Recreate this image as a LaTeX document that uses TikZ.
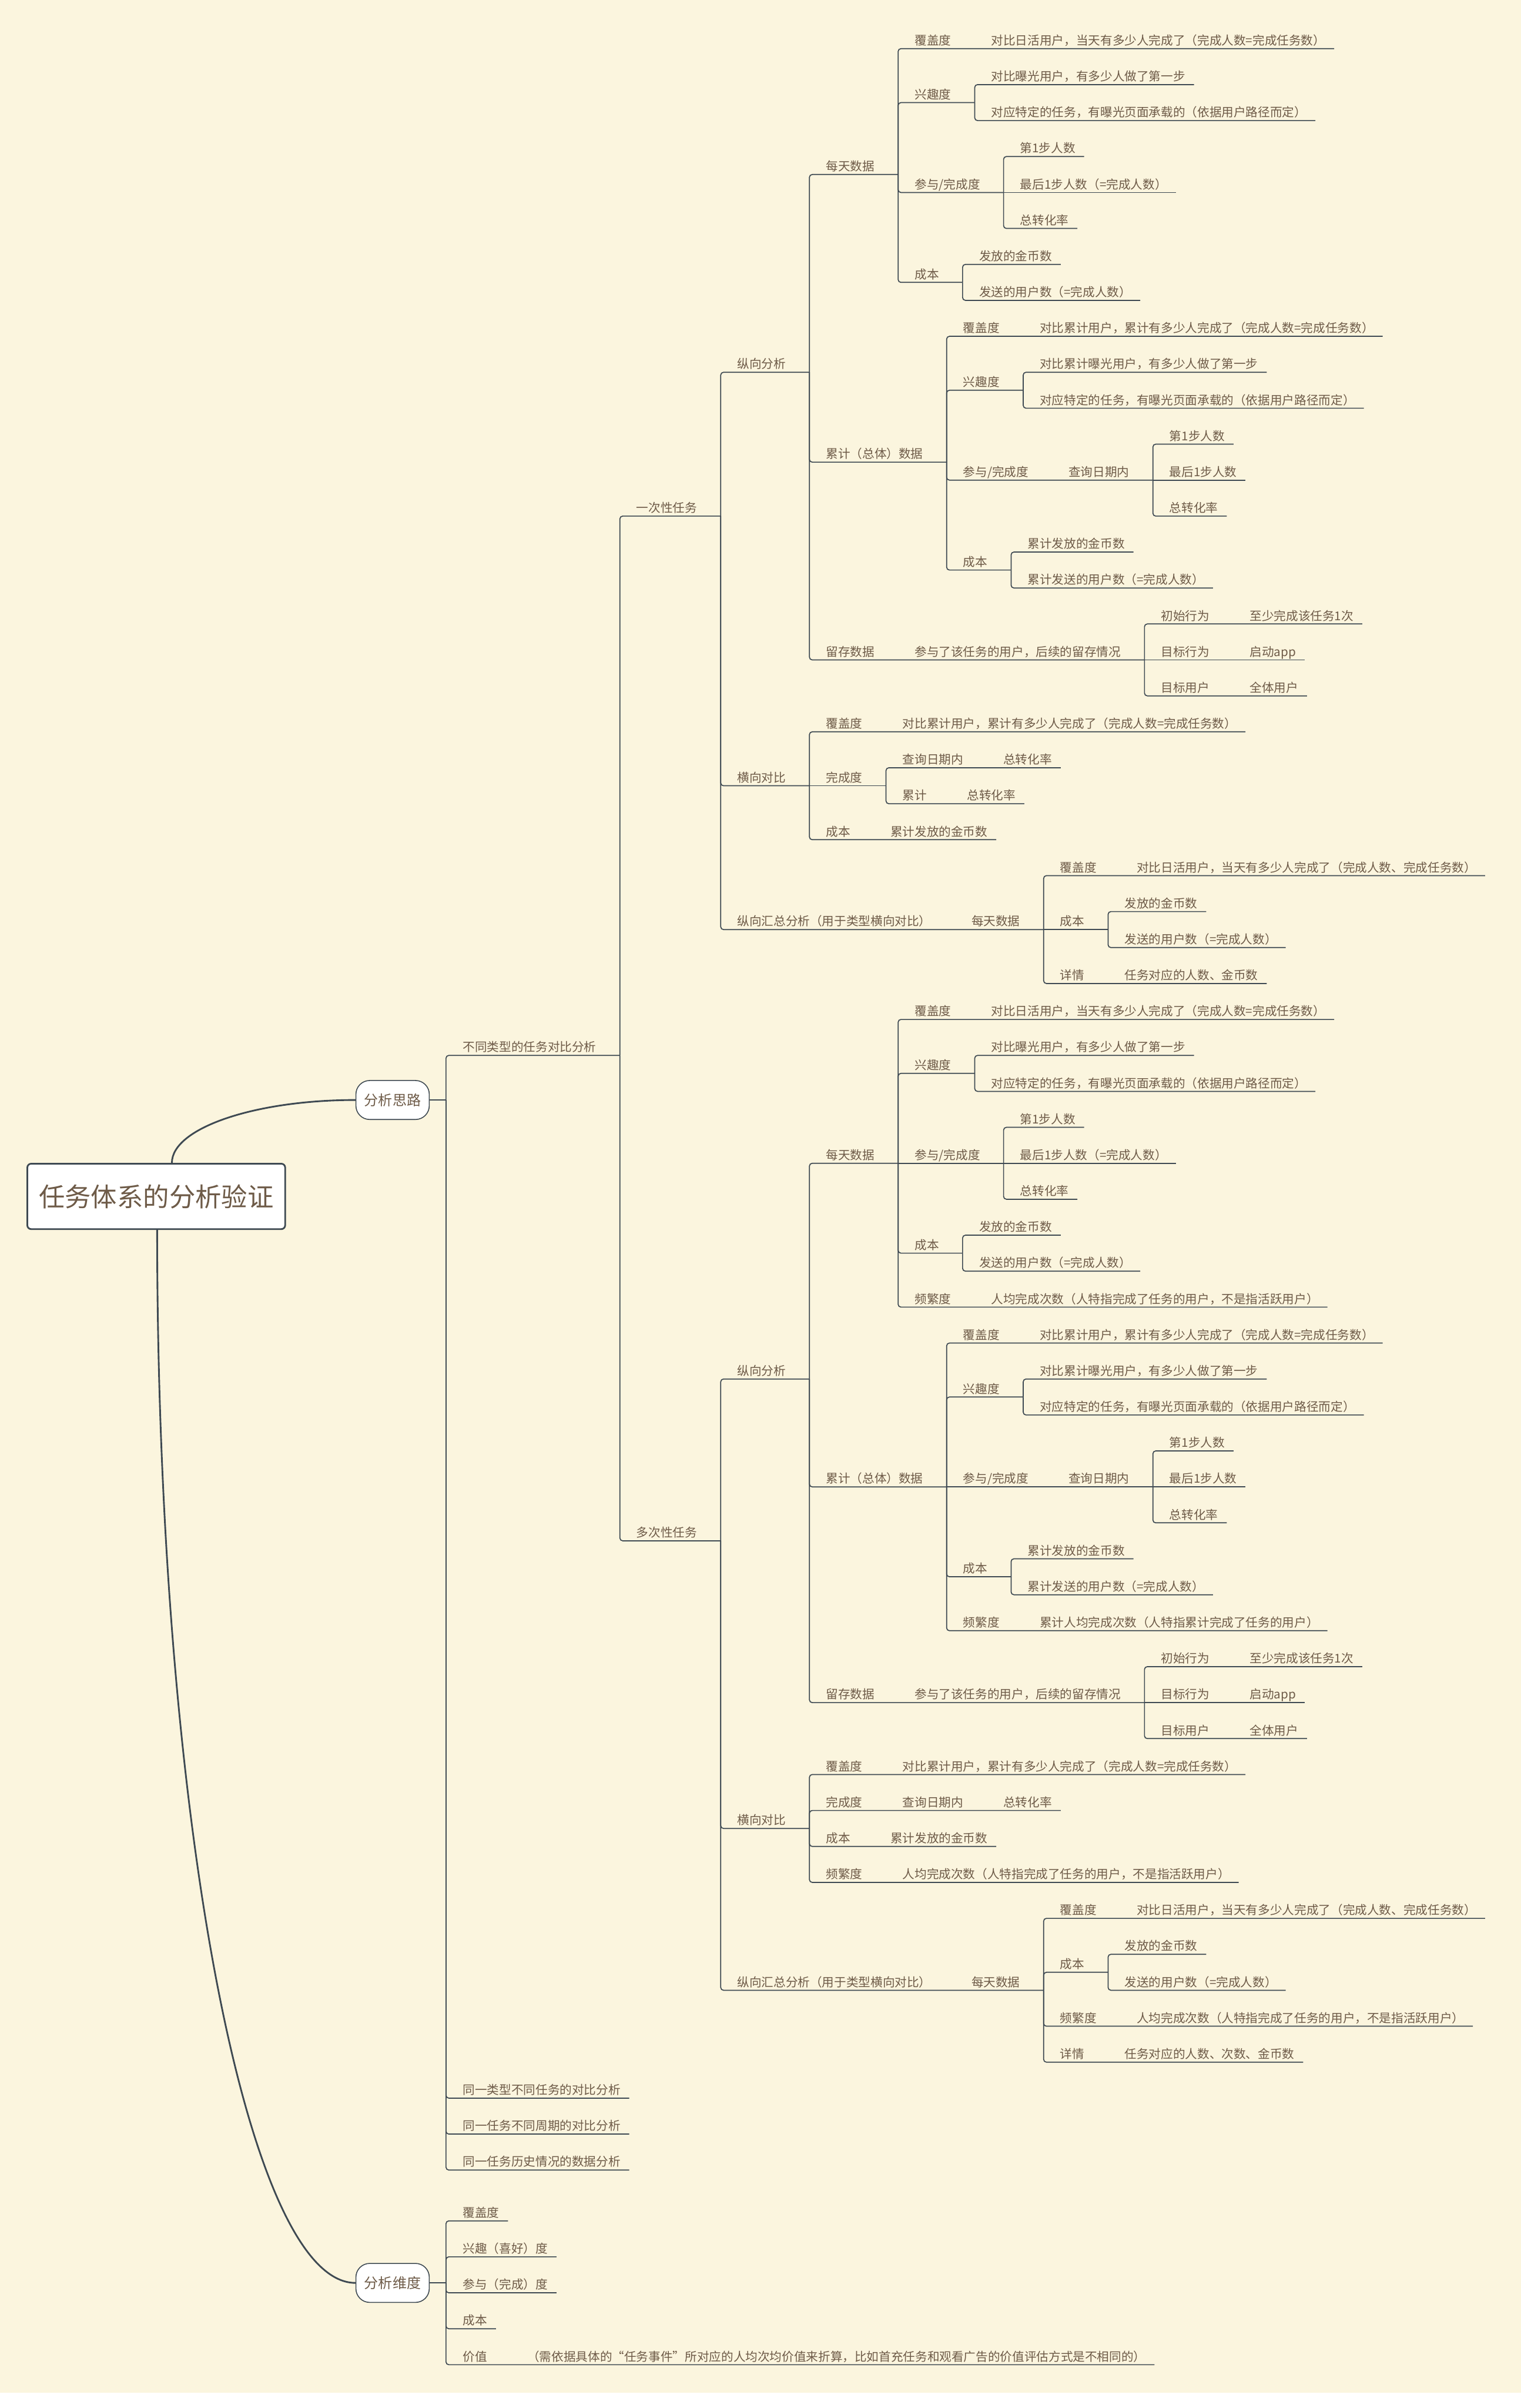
\documentclass[tikz,border=0pt]{standalone}
\usepackage{fontspec}
\newfontfamily\cjk{Noto Sans CJK SC}
\usetikzlibrary{calc}
\definecolor{bgc}{RGB}{251,245,222}
\definecolor{txc}{RGB}{110,91,72}
\definecolor{lnc}{RGB}{62,73,82}
\newcommand\RY[1]{31.7+23.42*(#1)}
\newcommand\RZ[1]{1446.6+23.42*(#1)}
\tikzset{
  t/.style={anchor=south west, inner sep=0pt, text depth=2.2pt, text height=6.6pt, font=\cjk\fontsize{7.9}{7.9}\selectfont, text=txc},
  ln/.style={draw=lnc, line width=0.65pt, rounded corners=1.8pt},
  pill/.style={draw=lnc, fill=white, line width=0.6pt, rounded corners=9pt, minimum width=47.8pt, minimum height=25.4pt, inner sep=0pt, font=\cjk\fontsize{9.2}{9.2}\selectfont, text=txc},
  rootbox/.style={draw=lnc, fill=white, line width=1.1pt, rounded corners=2.5pt, minimum width=168pt, minimum height=42.6pt, inner sep=0pt, font=\cjk\fontsize{17}{17}\selectfont, text=txc},
  curve/.style={draw=lnc, line width=1.1pt},
}
\begin{document}
\begin{tikzpicture}[x=1pt,y=-1pt]
\fill[white] (0,0) rectangle (991,1568.5);
\fill[bgc] (0,0) rectangle (991,1558.6);
\useasboundingbox (0,0) rectangle (991,1568.5);

% root and main branches
\node[rootbox] (root) at (101.8,779.3) {任务体系的分析验证};
\node[pill] (p1) at (255.8,716.5) {分析思路};
\node[pill] (p2) at (255.8,1487) {分析维度};
\draw[curve] ([xshift=10.2pt]root.north) .. controls (112,734.9) and (165.7,716.5) .. (p1.west);
\draw[curve] ([xshift=0.6pt]root.south) .. controls (102.4,1179.6) and (160.3,1487) .. (p2.west);
\coordinate (p1t) at (290.6,716.5);
\coordinate (p2t) at (290.6,1487);
\draw[ln] (p1.east) -- (p1t);
\draw[ln] (p2.east) -- (p2t);

% level 1 under 分析思路
\node[t] (a1) at (301.4,{\RY{28}}) {不同类型的任务对比分析};
\coordinate (a1t) at (403.9,{\RY{28}});
\node[t] (a2) at (301.4,{\RY{57}}) {同一类型不同任务的对比分析};
\node[t] (a3) at (301.4,{\RY{58}}) {同一任务不同周期的对比分析};
\node[t] (a4) at (301.4,{\RY{59}}) {同一任务历史情况的数据分析};
\draw[ln] (p1t) |- (a1t);
\draw[ln] (p1t) |- ($(a2.south east)+(5.5,0)$);
\draw[ln] (p1t) |- ($(a3.south east)+(5.5,0)$);
\draw[ln] (p1t) |- ($(a4.south east)+(5.5,0)$);

% level 2
\node[t] (b1) at (414.5,{\RY{13}}) {一次性任务};
\coordinate (b1t) at (469.6,{\RY{13}});
\node[t] (b2) at (414.5,{\RY{41.5}}) {多次性任务};
\coordinate (b2t) at (469.6,{\RY{41.5}});
\draw[ln] (a1t) |- (b1t);
\draw[ln] (a1t) |- (b2t);

% ===== 一次性任务 =====
\node[t] (c1) at (480.2,{\RY{9}}) {纵向分析};
\coordinate (c1t) at (527.4,{\RY{9}});
\node[t] (c2) at (480.2,{\RY{20.5}}) {横向对比};
\coordinate (c2t) at (527.4,{\RY{20.5}});
\node[t] (c3) at (480.2,{\RY{24.5}}) {纵向汇总分析（用于类型横向对比）};
\node[t] (c3d) at (632.8,{\RY{24.5}}) {每天数据};
\coordinate (c3dt) at (680.0,{\RY{24.5}});
\draw[ln] (b1t) |- (c1t);
\draw[ln] (b1t) |- (c2t);
\draw[ln] (b1t) |- (c3dt);

\node[t] (d1) at (538.0,{\RY{3.5}}) {每天数据};
\coordinate (d1t) at (585.2,{\RY{3.5}});
\node[t] (d2) at (538.0,{\RY{11.5}}) {累计（总体）数据};
\coordinate (d2t) at (616.8,{\RY{11.5}});
\node[t] (d3) at (538.0,{\RY{17}}) {留存数据};
\node[t] (d3e) at (595.8,{\RY{17}}) {参与了该任务的用户，后续的留存情况};
\coordinate (d3et) at (745.7,{\RY{17}});
\draw[ln] (c1t) |- (d1t);
\draw[ln] (c1t) |- (d2t);
\draw[ln] (c1t) |- (d3et);

% 每天数据
\node[t] (e1) at (595.8,{\RY{0}}) {覆盖度};
\node[t] (e1a) at (645.7,{\RY{0}}) {对比日活用户，当天有多少人完成了（完成人数=完成任务数）};
\node[t] (e2) at (595.8,{\RY{1.5}}) {兴趣度};
\coordinate (e2t) at (635.1,{\RY{1.5}});
\node[t] (e2a) at (645.7,{\RY{1}}) {对比曝光用户，有多少人做了第一步};
\node[t] (e2b) at (645.7,{\RY{2}}) {对应特定的任务，有曝光页面承载的（依据用户路径而定）};
\node[t] (e3) at (595.8,{\RY{4}}) {参与/完成度};
\coordinate (e3t) at (653.9,{\RY{4}});
\node[t] (e3a) at (664.5,{\RY{3}}) {第1步人数};
\node[t] (e3b) at (664.5,{\RY{4}}) {最后1步人数（=完成人数）};
\node[t] (e3c) at (664.5,{\RY{5}}) {总转化率};
\node[t] (e4) at (595.8,{\RY{6.5}}) {成本};
\coordinate (e4t) at (627.2,{\RY{6.5}});
\node[t] (e4a) at (637.8,{\RY{6}}) {发放的金币数};
\node[t] (e4b) at (637.8,{\RY{7}}) {发送的用户数（=完成人数）};
\draw[ln] (d1t) |- ($(e1a.south east)+(5.5,0)$);
\draw[ln] (d1t) |- (e2t);
\draw[ln] (e2t) |- ($(e2a.south east)+(5.5,0)$);
\draw[ln] (e2t) |- ($(e2b.south east)+(5.5,0)$);
\draw[ln] (d1t) |- (e3t);
\draw[ln] (e3t) |- ($(e3a.south east)+(5.5,0)$);
\draw[ln] (e3t) -- ($(e3b.south east)+(5.5,0)$);
\draw[ln] (e3t) |- ($(e3c.south east)+(5.5,0)$);
\draw[ln] (d1t) |- (e4t);
\draw[ln] (e4t) |- ($(e4a.south east)+(5.5,0)$);
\draw[ln] (e4t) |- ($(e4b.south east)+(5.5,0)$);

% 累计（总体）数据
\node[t] (f1) at (627.4,{\RY{8}}) {覆盖度};
\node[t] (f1a) at (677.3,{\RY{8}}) {对比累计用户，累计有多少人完成了（完成人数=完成任务数）};
\node[t] (f2) at (627.4,{\RY{9.5}}) {兴趣度};
\coordinate (f2t) at (666.7,{\RY{9.5}});
\node[t] (f2a) at (677.3,{\RY{9}}) {对比累计曝光用户，有多少人做了第一步};
\node[t] (f2b) at (677.3,{\RY{10}}) {对应特定的任务，有曝光页面承载的（依据用户路径而定）};
\node[t] (f3) at (627.4,{\RY{12}}) {参与/完成度};
\node[t] (f3q) at (696.1,{\RY{12}}) {查询日期内};
\coordinate (f3qt) at (751.2,{\RY{12}});
\node[t] (f3a) at (761.8,{\RY{11}}) {第1步人数};
\node[t] (f3b) at (761.8,{\RY{12}}) {最后1步人数};
\node[t] (f3c) at (761.8,{\RY{13}}) {总转化率};
\node[t] (f4) at (627.4,{\RY{14.5}}) {成本};
\coordinate (f4t) at (658.8,{\RY{14.5}});
\node[t] (f4a) at (669.4,{\RY{14}}) {累计发放的金币数};
\node[t] (f4b) at (669.4,{\RY{15}}) {累计发送的用户数（=完成人数）};
\draw[ln] (d2t) |- ($(f1a.south east)+(5.5,0)$);
\draw[ln] (d2t) |- (f2t);
\draw[ln] (f2t) |- ($(f2a.south east)+(5.5,0)$);
\draw[ln] (f2t) |- ($(f2b.south east)+(5.5,0)$);
\draw[ln] (d2t) |- (f3qt);
\draw[ln] (f3qt) |- ($(f3a.south east)+(5.5,0)$);
\draw[ln] (f3qt) -- ($(f3b.south east)+(5.5,0)$);
\draw[ln] (f3qt) |- ($(f3c.south east)+(5.5,0)$);
\draw[ln] (d2t) |- (f4t);
\draw[ln] (f4t) |- ($(f4a.south east)+(5.5,0)$);
\draw[ln] (f4t) |- ($(f4b.south east)+(5.5,0)$);

% 留存
\node[t] (g1) at (756.3,{\RY{16}}) {初始行为};
\node[t] (g1a) at (814.1,{\RY{16}}) {至少完成该任务1次};
\node[t] (g2) at (756.3,{\RY{17}}) {目标行为};
\node[t] (g2a) at (814.1,{\RY{17}}) {启动app};
\node[t] (g3) at (756.3,{\RY{18}}) {目标用户};
\node[t] (g3a) at (814.1,{\RY{18}}) {全体用户};
\draw[ln] (d3et) |- ($(g1a.south east)+(5.5,0)$);
\draw[ln] (d3et) -- ($(g2a.south east)+(5.5,0)$);
\draw[ln] (d3et) |- ($(g3a.south east)+(5.5,0)$);

% 横向对比
\node[t] (h1) at (538.0,{\RY{19}}) {覆盖度};
\node[t] (h1a) at (587.9,{\RY{19}}) {对比累计用户，累计有多少人完成了（完成人数=完成任务数）};
\node[t] (h2) at (538.0,{\RY{20.5}}) {完成度};
\coordinate (h2t) at (577.3,{\RY{20.5}});
\node[t] (h2a) at (587.9,{\RY{20}}) {查询日期内};
\node[t] (h2a1) at (653.6,{\RY{20}}) {总转化率};
\node[t] (h2b) at (587.9,{\RY{21}}) {累计};
\node[t] (h2b1) at (629.9,{\RY{21}}) {总转化率};
\node[t] (h3) at (538.0,{\RY{22}}) {成本};
\node[t] (h3a) at (580.0,{\RY{22}}) {累计发放的金币数};
\draw[ln] (c2t) |- ($(h1a.south east)+(5.5,0)$);
\draw[ln] (c2t) -- (h2t);
\draw[ln] (h2t) |- ($(h2a1.south east)+(5.5,0)$);
\draw[ln] (h2t) |- ($(h2b1.south east)+(5.5,0)$);
\draw[ln] (c2t) |- ($(h3a.south east)+(5.5,0)$);

% 纵向汇总 每天数据
\node[t] (i1) at (690.6,{\RY{23}}) {覆盖度};
\node[t] (i1a) at (740.5,{\RY{23}}) {对比日活用户，当天有多少人完成了（完成人数、完成任务数）};
\node[t] (i2) at (690.6,{\RY{24.5}}) {成本};
\coordinate (i2t) at (722.0,{\RY{24.5}});
\node[t] (i2a) at (732.6,{\RY{24}}) {发放的金币数};
\node[t] (i2b) at (732.6,{\RY{25}}) {发送的用户数（=完成人数）};
\node[t] (i3) at (690.6,{\RY{26}}) {详情};
\node[t] (i3a) at (732.6,{\RY{26}}) {任务对应的人数、金币数};
\draw[ln] (c3dt) |- ($(i1a.south east)+(5.5,0)$);
\draw[ln] (c3dt) -- (i2t);
\draw[ln] (i2t) |- ($(i2a.south east)+(5.5,0)$);
\draw[ln] (i2t) |- ($(i2b.south east)+(5.5,0)$);
\draw[ln] (c3dt) |- ($(i3a.south east)+(5.5,0)$);

% ===== 多次性任务 =====
\node[t] (c4) at (480.2,{\RY{37}}) {纵向分析};
\coordinate (c4t) at (527.4,{\RY{37}});
\node[t] (c5) at (480.2,{\RY{49.5}}) {横向对比};
\coordinate (c5t) at (527.4,{\RY{49.5}});
\node[t] (c6) at (480.2,{\RY{54}}) {纵向汇总分析（用于类型横向对比）};
\node[t] (c6d) at (632.8,{\RY{54}}) {每天数据};
\coordinate (c6dt) at (680.0,{\RY{54}});
\draw[ln] (b2t) |- (c4t);
\draw[ln] (b2t) |- (c5t);
\draw[ln] (b2t) |- (c6dt);

\node[t] (d4) at (538.0,{\RY{31}}) {每天数据};
\coordinate (d4t) at (585.2,{\RY{31}});
\node[t] (d5) at (538.0,{\RY{40}}) {累计（总体）数据};
\coordinate (d5t) at (616.8,{\RY{40}});
\node[t] (d6) at (538.0,{\RY{46}}) {留存数据};
\node[t] (d6e) at (595.8,{\RY{46}}) {参与了该任务的用户，后续的留存情况};
\coordinate (d6et) at (745.7,{\RY{46}});
\draw[ln] (c4t) |- (d4t);
\draw[ln] (c4t) |- (d5t);
\draw[ln] (c4t) |- (d6et);

% 每天数据
\node[t] (j1) at (595.8,{\RY{27}}) {覆盖度};
\node[t] (j1a) at (645.7,{\RY{27}}) {对比日活用户，当天有多少人完成了（完成人数=完成任务数）};
\node[t] (j2) at (595.8,{\RY{28.5}}) {兴趣度};
\coordinate (j2t) at (635.1,{\RY{28.5}});
\node[t] (j2a) at (645.7,{\RY{28}}) {对比曝光用户，有多少人做了第一步};
\node[t] (j2b) at (645.7,{\RY{29}}) {对应特定的任务，有曝光页面承载的（依据用户路径而定）};
\node[t] (j3) at (595.8,{\RY{31}}) {参与/完成度};
\coordinate (j3t) at (653.9,{\RY{31}});
\node[t] (j3a) at (664.5,{\RY{30}}) {第1步人数};
\node[t] (j3b) at (664.5,{\RY{31}}) {最后1步人数（=完成人数）};
\node[t] (j3c) at (664.5,{\RY{32}}) {总转化率};
\node[t] (j4) at (595.8,{\RY{33.5}}) {成本};
\coordinate (j4t) at (627.2,{\RY{33.5}});
\node[t] (j4a) at (637.8,{\RY{33}}) {发放的金币数};
\node[t] (j4b) at (637.8,{\RY{34}}) {发送的用户数（=完成人数）};
\node[t] (j5) at (595.8,{\RY{35}}) {频繁度};
\node[t] (j5a) at (645.7,{\RY{35}}) {人均完成次数（人特指完成了任务的用户，不是指活跃用户）};
\draw[ln] (d4t) |- ($(j1a.south east)+(5.5,0)$);
\draw[ln] (d4t) |- (j2t);
\draw[ln] (j2t) |- ($(j2a.south east)+(5.5,0)$);
\draw[ln] (j2t) |- ($(j2b.south east)+(5.5,0)$);
\draw[ln] (d4t) -- (j3t);
\draw[ln] (j3t) |- ($(j3a.south east)+(5.5,0)$);
\draw[ln] (j3t) -- ($(j3b.south east)+(5.5,0)$);
\draw[ln] (j3t) |- ($(j3c.south east)+(5.5,0)$);
\draw[ln] (d4t) |- (j4t);
\draw[ln] (j4t) |- ($(j4a.south east)+(5.5,0)$);
\draw[ln] (j4t) |- ($(j4b.south east)+(5.5,0)$);
\draw[ln] (d4t) |- ($(j5a.south east)+(5.5,0)$);

% 累计（总体）数据
\node[t] (k1) at (627.4,{\RY{36}}) {覆盖度};
\node[t] (k1a) at (677.3,{\RY{36}}) {对比累计用户，累计有多少人完成了（完成人数=完成任务数）};
\node[t] (k2) at (627.4,{\RY{37.5}}) {兴趣度};
\coordinate (k2t) at (666.7,{\RY{37.5}});
\node[t] (k2a) at (677.3,{\RY{37}}) {对比累计曝光用户，有多少人做了第一步};
\node[t] (k2b) at (677.3,{\RY{38}}) {对应特定的任务，有曝光页面承载的（依据用户路径而定）};
\node[t] (k3) at (627.4,{\RY{40}}) {参与/完成度};
\node[t] (k3q) at (696.1,{\RY{40}}) {查询日期内};
\coordinate (k3qt) at (751.2,{\RY{40}});
\node[t] (k3a) at (761.8,{\RY{39}}) {第1步人数};
\node[t] (k3b) at (761.8,{\RY{40}}) {最后1步人数};
\node[t] (k3c) at (761.8,{\RY{41}}) {总转化率};
\node[t] (k4) at (627.4,{\RY{42.5}}) {成本};
\coordinate (k4t) at (658.8,{\RY{42.5}});
\node[t] (k4a) at (669.4,{\RY{42}}) {累计发放的金币数};
\node[t] (k4b) at (669.4,{\RY{43}}) {累计发送的用户数（=完成人数）};
\node[t] (k5) at (627.4,{\RY{44}}) {频繁度};
\node[t] (k5a) at (677.3,{\RY{44}}) {累计人均完成次数（人特指累计完成了任务的用户）};
\draw[ln] (d5t) |- ($(k1a.south east)+(5.5,0)$);
\draw[ln] (d5t) |- (k2t);
\draw[ln] (k2t) |- ($(k2a.south east)+(5.5,0)$);
\draw[ln] (k2t) |- ($(k2b.south east)+(5.5,0)$);
\draw[ln] (d5t) -- (k3qt);
\draw[ln] (k3qt) |- ($(k3a.south east)+(5.5,0)$);
\draw[ln] (k3qt) -- ($(k3b.south east)+(5.5,0)$);
\draw[ln] (k3qt) |- ($(k3c.south east)+(5.5,0)$);
\draw[ln] (d5t) |- (k4t);
\draw[ln] (k4t) |- ($(k4a.south east)+(5.5,0)$);
\draw[ln] (k4t) |- ($(k4b.south east)+(5.5,0)$);
\draw[ln] (d5t) |- ($(k5a.south east)+(5.5,0)$);

% 留存
\node[t] (l1) at (756.3,{\RY{45}}) {初始行为};
\node[t] (l1a) at (814.1,{\RY{45}}) {至少完成该任务1次};
\node[t] (l2) at (756.3,{\RY{46}}) {目标行为};
\node[t] (l2a) at (814.1,{\RY{46}}) {启动app};
\node[t] (l3) at (756.3,{\RY{47}}) {目标用户};
\node[t] (l3a) at (814.1,{\RY{47}}) {全体用户};
\draw[ln] (d6et) |- ($(l1a.south east)+(5.5,0)$);
\draw[ln] (d6et) -- ($(l2a.south east)+(5.5,0)$);
\draw[ln] (d6et) |- ($(l3a.south east)+(5.5,0)$);

% 横向对比
\node[t] (m1) at (538.0,{\RY{48}}) {覆盖度};
\node[t] (m1a) at (587.9,{\RY{48}}) {对比累计用户，累计有多少人完成了（完成人数=完成任务数）};
\node[t] (m2) at (538.0,{\RY{49}}) {完成度};
\node[t] (m2a) at (587.9,{\RY{49}}) {查询日期内};
\node[t] (m2b) at (653.6,{\RY{49}}) {总转化率};
\node[t] (m3) at (538.0,{\RY{50}}) {成本};
\node[t] (m3a) at (580.0,{\RY{50}}) {累计发放的金币数};
\node[t] (m4) at (538.0,{\RY{51}}) {频繁度};
\node[t] (m4a) at (587.9,{\RY{51}}) {人均完成次数（人特指完成了任务的用户，不是指活跃用户）};
\draw[ln] (c5t) |- ($(m1a.south east)+(5.5,0)$);
\draw[ln] (c5t) |- ($(m2b.south east)+(5.5,0)$);
\draw[ln] (c5t) |- ($(m3a.south east)+(5.5,0)$);
\draw[ln] (c5t) |- ($(m4a.south east)+(5.5,0)$);

% 纵向汇总 每天数据
\node[t] (n1) at (690.6,{\RY{52}}) {覆盖度};
\node[t] (n1a) at (740.5,{\RY{52}}) {对比日活用户，当天有多少人完成了（完成人数、完成任务数）};
\node[t] (n2) at (690.6,{\RY{53.5}}) {成本};
\coordinate (n2t) at (722.0,{\RY{53.5}});
\node[t] (n2a) at (732.6,{\RY{53}}) {发放的金币数};
\node[t] (n2b) at (732.6,{\RY{54}}) {发送的用户数（=完成人数）};
\node[t] (n3) at (690.6,{\RY{55}}) {频繁度};
\node[t] (n3a) at (740.5,{\RY{55}}) {人均完成次数（人特指完成了任务的用户，不是指活跃用户）};
\node[t] (n4) at (690.6,{\RY{56}}) {详情};
\node[t] (n4a) at (732.6,{\RY{56}}) {任务对应的人数、次数、金币数};
\draw[ln] (c6dt) |- ($(n1a.south east)+(5.5,0)$);
\draw[ln] (c6dt) |- (n2t);
\draw[ln] (n2t) |- ($(n2a.south east)+(5.5,0)$);
\draw[ln] (n2t) |- ($(n2b.south east)+(5.5,0)$);
\draw[ln] (c6dt) |- ($(n3a.south east)+(5.5,0)$);
\draw[ln] (c6dt) |- ($(n4a.south east)+(5.5,0)$);

% ===== 分析维度 =====
\node[t] (o1) at (301.4,{\RZ{0}}) {覆盖度};
\node[t] (o2) at (301.4,{\RZ{1}}) {兴趣（喜好）度};
\node[t] (o3) at (301.4,{\RZ{2}}) {参与（完成）度};
\node[t] (o4) at (301.4,{\RZ{3}}) {成本};
\node[t] (o5) at (301.4,{\RZ{4}}) {价值};
\node[t] (o5a) at (343.4,{\RZ{4}}) {（需依据具体的“任务事件”所对应的人均次均价值来折算，比如首充任务和观看广告的价值评估方式是不相同的）};
\draw[ln] (p2t) |- ($(o1.south east)+(5.5,0)$);
\draw[ln] (p2t) |- ($(o2.south east)+(5.5,0)$);
\draw[ln] (p2t) |- ($(o3.south east)+(5.5,0)$);
\draw[ln] (p2t) |- ($(o4.south east)+(5.5,0)$);
\draw[ln] (p2t) |- ($(o5a.south east)+(5.5,0)$);
\end{tikzpicture}
\end{document}
